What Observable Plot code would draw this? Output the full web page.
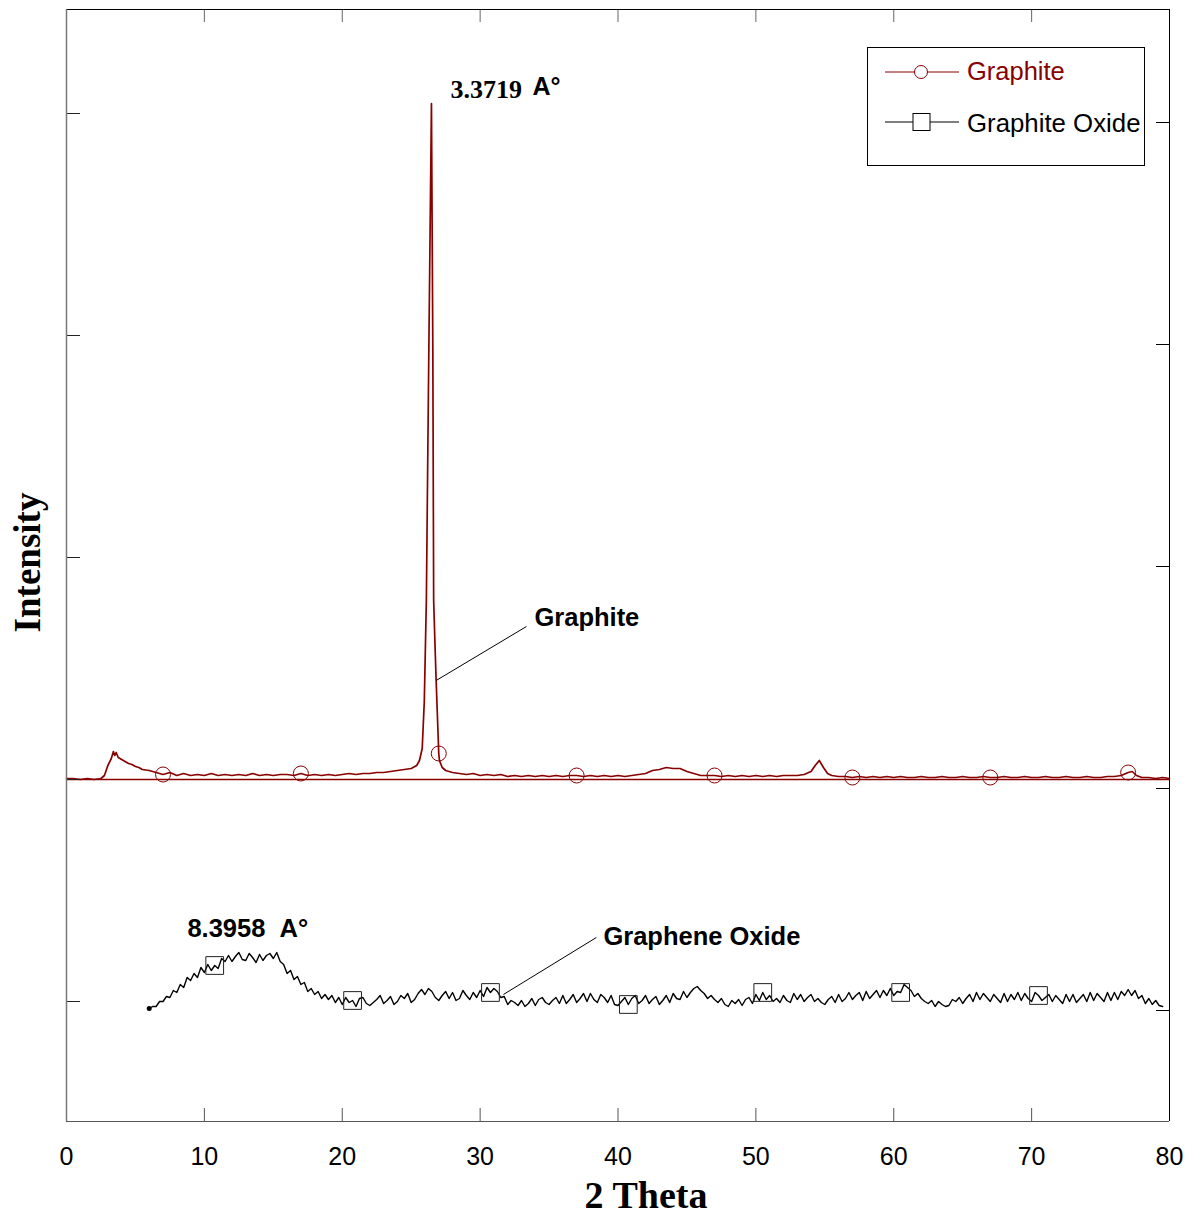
<!DOCTYPE html>
<html>
<head>
<meta charset="utf-8">
<script src="https://cdn.jsdelivr.net/npm/d3@7"></script>
<script src="https://cdn.jsdelivr.net/npm/@observablehq/plot@0.6"></script>
<style>
  body { margin: 0; background: #fff; }
  #wrap { position: relative; width: 1202px; height: 1214px; }
  #legend { position: absolute; left: 867px; top: 47px; }
</style>
</head>
<body>
<div id="wrap">
  <div id="chart"></div>
  <svg id="legend" width="279" height="120" font-family="Arial, 'Liberation Sans', sans-serif">
    <rect x="0.5" y="0.5" width="277" height="118" fill="#fff" stroke="#000" stroke-width="1"></rect>
    <line x1="18" x2="92" y1="25" y2="25" stroke="#880000" stroke-width="1"></line>
    <circle cx="54" cy="25" r="6.5" fill="#fff" stroke="#880000" stroke-width="1"></circle>
    <text x="100" y="33" font-size="25.5" fill="#880000">Graphite</text>
    <line x1="18" x2="92" y1="75" y2="75" stroke="#000" stroke-width="1"></line>
    <rect x="46" y="66.5" width="17" height="17" fill="#fff" stroke="#000" stroke-width="1"></rect>
    <text x="100" y="85" font-size="25.8" fill="#000">Graphite Oxide</text>
  </svg>
</div>
<script>
// ---------- DATA ----------
// Graphite XRD pattern: [2θ, intensity (a.u.)]
const graphite = [
  [0,223],[0.5,223],[1,222],[1.5,223],[2,222],[2.5,223],[2.75,226],[3,236],[3.25,243],[3.4,250],[3.5,246],[3.6,249],
  [3.75,244],[4,242],[4.25,240],[4.5,238],[4.75,237],[5,235],[5.25,234],[5.5,232],[6,231],[6.5,229],[7,227],[7.5,229],
  [8,226],[8.5,228],[9,226],[9.5,227],[10,226],[10.5,228],[11,226],[11.5,227],[12,226],[12.5,227],[13,226],[13.5,228],
  [14,226],[14.5,227],[15,226],[15.5,227],[16,227],[16.5,226],[17,228],[17.5,226],[18,227],[18.5,226],[19,227],[19.5,226],
  [20,227],[20.5,228],[21,227],[21.5,228],[22,228],[22.5,229],[23,229],[23.5,230],[24,231],[24.5,232],[25,233],[25.4,236],
  [25.6,241],[25.8,253],[25.95,300],[26.1,401],[26.28,651],[26.47,898],[26.57,651],[26.63,401],[26.72,360],[26.81,321],
  [26.93,275],[27,248],[27.05,241],[27.25,234],[27.5,231],[28,229],[28.5,228],[29,227],[29.5,228],[30,226],[30.5,227],
  [31,226],[31.5,227],[32,225],[32.5,226],[33,225],[33.5,226],[34,225],[34.5,226],[35,225],[35.5,226],[36,225],[36.5,226],
  [37,226],[37.5,225],[38,226],[38.5,225],[39,226],[39.5,225],[40,226],[40.5,225],[41,226],[41.5,227],[42,228],[42.5,231],
  [43,232],[43.5,234],[44,233],[44.5,233],[45,230],[45.5,228],[46,226],[46.5,226],[47,226],[47.5,225],[48,226],[48.5,225],
  [49,226],[49.5,225],[50,226],[50.5,225],[51,226],[51.5,225],[52,226],[52.5,226],[53,226],[53.5,227],[54,230],[54.3,236],
  [54.6,241],[54.9,234],[55.2,228],[55.5,226],[56,225],[56.5,225],[57,224],[57.5,225],[58,224],[58.5,225],[59,224],[59.5,225],
  [60,224],[60.5,225],[61,224],[61.5,224],[62,225],[62.5,224],[63,224],[63.5,225],[64,224],[64.5,224],[65,225],[65.5,224],
  [66,224],[66.5,225],[67,224],[67.5,224],[68,225],[68.5,224],[69,224],[69.5,225],[70,224],[70.5,224],[71,225],[71.5,224],
  [72,224],[72.5,225],[73,224],[73.5,224],[74,225],[74.5,224],[75,224],[75.5,225],[76,225],[76.5,226],[77,229],[77.3,230],
  [77.6,226],[78,224],[78.5,224],[79,223],[79.5,224],[80,223]
];
const graphiteBaseline = 222;

// Graphene oxide pattern, sampled every 0.25° from 6°
const goStart = 6, goStep = 0.25;
const goIntensity = [
  /*6*/ -7,-5,-5,0,   /*7*/ 0,5,4,11,     /*8*/ 9,17,14,24,   /*9*/ 21,28,24,34,
  /*10*/ 29,37,31,36, /*11*/ 33,43,40,46, /*12*/ 40,45,49,42, /*13*/ 41,48,44,39,
  /*14*/ 47,41,46,48, /*15*/ 43,49,40,37, /*16*/ 28,31,22,25, /*17*/ 17,19,10,13,
  /*18*/ 7,10,3,7,    /*19*/ 2,6,-1,4,    /*20*/ -3,4,-1,1,   /*21*/ -5,3,4,-2,
  /*22*/ -4,-1,2,6,   /*23*/ -2,1,5,-3,   /*24*/ 0,6,3,8,     /*25*/ -1,2,8,12,
  /*26*/ 7,13,10,4,   /*27*/ 1,6,10,3,    /*28*/ 9,1,3,11,    /*29*/ 6,2,9,4,
  /*30*/ 11,5,14,9,   /*31*/ 13,10,4,5,   /*32*/ -3,1,-1,-4,  /*33*/ 1,-5,-2,3,
  /*34*/ -4,2,4,-1,   /*35*/ -3,1,4,-2,   /*36*/ 6,-2,2,7,    /*37*/ -1,3,8,0,
  /*38*/ 8,2,-1,7,    /*39*/ 4,-1,6,-3,   /*40*/ -4,0,4,-3,   /*41*/ 3,6,-2,1,
  /*42*/ 6,-2,2,5,    /*43*/ -3,1,6,-1,   /*44*/ 8,3,2,10,    /*45*/ 4,9,13,15,
  /*46*/ 11,8,3,6,    /*47*/ 2,-1,3,-3,   /*48*/ -5,1,-2,2,   /*49*/ -4,2,4,-2,
  /*50*/ 7,1,9,2,     /*51*/ 6,0,3,-1,    /*52*/ 6,1,-1,8,    /*53*/ 2,7,0,4,
  /*54*/ 7,0,3,-1,    /*55*/ -3,2,5,-1,   /*56*/ 7,0,3,9,     /*57*/ 2,6,9,1,
  /*58*/ 10,3,7,11,   /*59*/ 4,11,6,13,   /*60*/ 6,10,9,17,   /*61*/ 14,11,5,8,
  /*62*/ 3,0,-2,1,    /*63*/ -5,0,-3,-5,  /*64*/ -4,2,0,4,    /*65*/ -2,3,7,0,
  /*66*/ 9,2,8,4,     /*67*/ 0,7,3,-1,    /*68*/ 8,0,7,2,     /*69*/ 9,1,8,3,
  /*70*/ 0,9,6,1,     /*71*/ 4,7,0,6,     /*72*/ 2,-2,7,0,    /*73*/ 7,-1,3,7,
  /*74*/ 0,9,1,8,     /*75*/ 4,0,9,1,     /*76*/ 9,2,10,6,    /*77*/ 12,6,11,3,
  /*78*/ 6,-2,3,-3,   /*79*/ 1,-4,-5
];

// marker positions (2θ)
const graphiteMarkerTheta = [7, 17, 27, 37, 47, 57, 67, 77];
const goMarkerTheta = [10.75, 20.75, 30.75, 40.75, 50.5, 60.5, 70.5];

// axis ticks
const xTicks = [0, 10, 20, 30, 40, 50, 60, 70, 80];
const leftTicks = [0, 222, 444, 666, 888];
const rightTicks = [-9, 213, 435, 657, 879];

// annotations
const annoText = ["Graphite", "Graphene Oxide", "8.3958\u00a0\u00a0A°"];
const annoTheta = [33.94, 38.94, 8.77];
const annoIntensity = [376, 57, 65];
const leaderX1 = [26.81, 31.69], leaderY1 = [321, 7];
const leaderX2 = [33.36, 38.43], leaderY2 = [375, 64];

// ---------- BUILD ----------
const red = "#880000";
const sans = "Arial, 'Liberation Sans', sans-serif";
const serif = "'Times New Roman', 'Liberation Serif', serif";

const gData = graphite.map(([t, v]) => ({theta: t, intensity: v}));
const goData = goIntensity.map((v, i) => ({theta: goStart + i * goStep, intensity: v}));
const near = (arr, t) => arr.find(d => Math.abs(d.theta - t) < 1e-6);
const gMarkers = graphiteMarkerTheta.map(t => near(gData, t));
const goMarkers = goMarkerTheta.map(t => near(goData, t));
const peak = d3.greatest(gData, d => d.intensity);
const annos = annoText.map((s, i) => ({text: s, theta: annoTheta[i], intensity: annoIntensity[i]}));
const leaders = leaderX1.map((x, i) => ({x1: x, y1: leaderY1[i], x2: leaderX2[i], y2: leaderY2[i]}));

const W = 1202, H = 1214, mt = 9, mr = 33, mb = 93, ml = 66;
const pw = W - ml - mr, ph = H - mt - mb;

const chart = Plot.plot({
  width: W, height: H,
  marginTop: mt, marginRight: mr, marginBottom: mb, marginLeft: ml,
  x: {domain: [0, 80]},
  y: {domain: [-120, 992], axis: null},
  style: {fontFamily: sans, background: "#fff", color: "#000"},
  marks: [
    Plot.ruleY([graphiteBaseline], {stroke: red, strokeWidth: 1.3}),
    Plot.line(gData, {x: "theta", y: "intensity", stroke: red, strokeWidth: 1.7}),
    Plot.line(goData, {x: "theta", y: "intensity", stroke: "#000", strokeWidth: 1.4}),
    Plot.dot(gMarkers, {x: "theta", y: "intensity", r: 7.5, stroke: red, strokeWidth: 1, fill: "none"}),
    Plot.dot(goMarkers, {x: "theta", y: "intensity", r: 10, symbol: "square", stroke: "#222", strokeWidth: 1, fill: "none"}),
    Plot.dot([goData[0]], {x: "theta", y: "intensity", r: 2.5, fill: "#000"}),
    // inward ticks
    Plot.tickX(xTicks, {x: d => d, insetTop: ph - 13, stroke: "#555"}),
    Plot.tickX(xTicks, {x: d => d, insetBottom: ph - 13, stroke: "#666"}),
    Plot.tickY(leftTicks, {y: d => d, insetRight: pw - 14, stroke: "#222"}),
    Plot.tickY(rightTicks, {y: d => d, insetLeft: pw - 13, stroke: "#000"}),
    // frame
    Plot.ruleY([992], {stroke: "#000"}),
    Plot.ruleX([80], {stroke: "#000"}),
    Plot.ruleX([0], {stroke: "#777", strokeWidth: 1.5}),
    Plot.ruleY([-120], {stroke: "#555", strokeWidth: 1.2}),
    Plot.axisX({ticks: xTicks, tickSize: 0, tickPadding: 26, fontSize: 25, label: null, fontFamily: sans}),
    // annotations
    Plot.text([peak], {x: "theta", y: "intensity", text: () => "3.3719", dx: 19, dy: -6, textAnchor: "start", lineAnchor: "bottom",
      fontFamily: serif, fontWeight: "bold", fontSize: 26, fill: "#000"}),
    Plot.text([peak], {x: "theta", y: "intensity", text: () => "A°", dx: 101, dy: -9, textAnchor: "start", lineAnchor: "bottom",
      fontFamily: sans, fontWeight: "bold", fontSize: 25, fill: "#000"}),
    Plot.link(leaders, {x1: "x1", y1: "y1", x2: "x2", y2: "y2", stroke: "#000", strokeWidth: 1}),
    Plot.text(annos, {x: "theta", y: "intensity", text: "text", textAnchor: "start", lineAnchor: "bottom",
      fontFamily: sans, fontWeight: "bold", fontSize: 25.5, fill: "#000"}),
    // axis titles
    Plot.text(["2 Theta"], {frameAnchor: "bottom", text: d => d, dx: 28, dy: 86, lineAnchor: "bottom",
      fontFamily: serif, fontWeight: "bold", fontSize: 38, fill: "#000"}),
    Plot.text(["Intensity"], {frameAnchor: "left", text: d => d, rotate: -90, dx: -26.7, dy: -3, lineAnchor: "bottom",
      textAnchor: "middle", fontFamily: serif, fontWeight: "bold", fontSize: 37, fill: "#000"})
  ]
});
document.getElementById("chart").appendChild(chart);
</script>
</body>
</html>
